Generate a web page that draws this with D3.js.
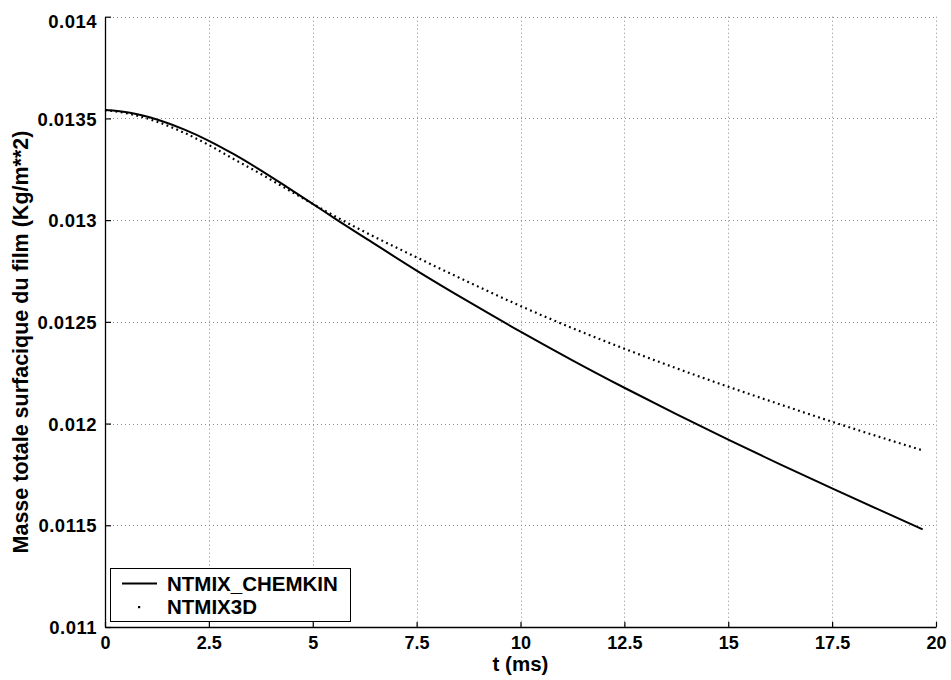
<!DOCTYPE html>
<html>
<head>
<meta charset="utf-8">
<script src="https://cdn.jsdelivr.net/npm/d3@7"></script>
<style>
  html, body { margin: 0; padding: 0; background: #fff; }
  text { font-family: "Liberation Sans", Arial, Helvetica, sans-serif; font-weight: bold; fill: #000; }
</style>
</head>
<body>
<svg id="chart" width="951" height="680"></svg>
<script>
// ---- data ----
const tValues = [0, 0.6, 1.25, 1.9, 2.5, 3.1, 3.75, 4.4, 5, 5.6, 6.25, 7.5, 8.75, 10, 11.25, 12.5, 13.75, 15, 16.25, 17.5, 18.6, 19.68];
const chemkin = [0.013541, 0.013528, 0.013495, 0.013446, 0.013390, 0.013324, 0.013245, 0.013160, 0.013080, 0.012999, 0.012914, 0.012752, 0.012599, 0.012452, 0.012311, 0.012176, 0.012046, 0.011921, 0.011799, 0.011681, 0.011579, 0.011480];
const ntmix3d = [0.013541, 0.013522, 0.013484, 0.013430, 0.013369, 0.013300, 0.013227, 0.013150, 0.013080, 0.013012, 0.012942, 0.012817, 0.012695, 0.012578, 0.012469, 0.012368, 0.012272, 0.012181, 0.012094, 0.012009, 0.011937, 0.011868];
const seriesNames = ["NTMIX_CHEMKIN", "NTMIX3D"];
const xTicks = [0, 2.5, 5, 7.5, 10, 12.5, 15, 17.5, 20];
const xTickLabels = ["0", "2.5", "5", "7.5", "10", "12.5", "15", "17.5", "20"];
const yTicks = [0.011, 0.0115, 0.012, 0.0125, 0.013, 0.0135, 0.014];
const yTickLabels = ["0.011", "0.0115", "0.012", "0.0125", "0.013", "0.0135", "0.014"];
const xTitle = "t (ms)";
const yTitle = "Masse totale surfacique du film (Kg/m**2)";

// ---- layout ----
const svg = d3.select("#chart");
const L = 105, R = 936, T = 16.7, B = 627;
const x = d3.scaleLinear().domain([0, 20]).range([L, R]);
const y = d3.scaleLinear().domain([0.011, 0.014]).range([B, T]);

// grid
const grid = svg.append("g").attr("stroke", "#8a8a8a").attr("stroke-width", 1).attr("stroke-dasharray", "1,3");
grid.selectAll("line.v").data(xTicks.slice(1)).join("line")
  .attr("x1", d => Math.round(x(d)) + 0.5).attr("x2", d => Math.round(x(d)) + 0.5)
  .attr("y1", T).attr("y2", B);
grid.selectAll("line.h").data(yTicks.slice(1)).join("line")
  .attr("y1", d => Math.round(y(d)) + 0.5).attr("y2", d => Math.round(y(d)) + 0.5)
  .attr("x1", L).attr("x2", R);

// axes
const xAxis = d3.axisBottom(x).tickValues(xTicks).tickSize(-5).tickSizeOuter(0)
  .tickFormat((d, i) => xTickLabels[i]);
const gx = svg.append("g").attr("transform", `translate(0,${B})`).call(xAxis);
gx.select(".domain").attr("stroke", "#000").attr("stroke-width", 1.3);
gx.selectAll(".tick line").attr("stroke", "#000").attr("stroke-width", 1.2);
gx.selectAll(".tick text").attr("font-size", 18).attr("dy", null).attr("y", 21.5);

const yAxis = d3.axisLeft(y).tickValues(yTicks).tickSize(-6).tickSizeOuter(0)
  .tickFormat((d, i) => yTickLabels[i]);
const gy = svg.append("g").attr("transform", `translate(${L},0)`).call(yAxis);
gy.select(".domain").attr("stroke", "#000").attr("stroke-width", 1.3);
gy.selectAll(".tick line").attr("stroke", "#000").attr("stroke-width", 1.2);
gy.selectAll(".tick text").attr("font-size", 18.5).attr("letter-spacing", "0.5px")
  .attr("x", -8).attr("dy", "0.36em");
// top label kept inside the figure
gy.selectAll(".tick").filter(d => d === 0.014).select("text").attr("dy", "0.58em");
svg.selectAll(".tick text").attr("font-family", "Liberation Sans, Arial, sans-serif").attr("font-weight", "bold");

// lines
const lineGen = vals => d3.line().curve(d3.curveMonotoneX)
  .x((d, i) => x(tValues[i])).y(d => y(d))(vals);

svg.append("path").attr("d", lineGen(chemkin))
  .attr("fill", "none").attr("stroke", "#000").attr("stroke-width", 2);
svg.append("path").attr("d", lineGen(ntmix3d))
  .attr("fill", "none").attr("stroke", "#000").attr("stroke-width", 2.2)
  .attr("stroke-dasharray", "1.8,3.5");

// axis titles
svg.append("text").attr("x", (L + R) / 2).attr("y", 671).attr("text-anchor", "middle")
  .attr("font-size", 20.5).text(xTitle);
svg.append("text").attr("transform", `translate(28,342) rotate(-90)`)
  .attr("text-anchor", "middle").attr("font-size", 21.5).text(yTitle);

// legend
const lg = svg.append("g");
lg.append("rect").attr("x", 110.5).attr("y", 568.5).attr("width", 240).attr("height", 53)
  .attr("fill", "#fff").attr("stroke", "#000").attr("stroke-width", 1);
lg.append("line").attr("x1", 122).attr("x2", 157).attr("y1", 583.5).attr("y2", 583.5)
  .attr("stroke", "#000").attr("stroke-width", 2);
lg.append("rect").attr("x", 138).attr("y", 606).attr("width", 2.2).attr("height", 2.2).attr("fill", "#000");
lg.append("text").attr("x", 167).attr("y", 590.5).attr("font-size", 20.5).text(seriesNames[0]);
lg.append("text").attr("x", 167).attr("y", 614).attr("font-size", 20.5).text(seriesNames[1]);
</script>
</body>
</html>
